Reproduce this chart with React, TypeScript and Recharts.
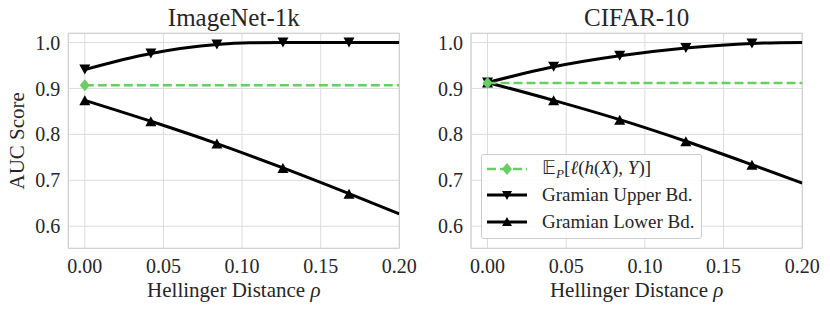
import { LineChart, Line, XAxis, YAxis, CartesianGrid, ReferenceArea, Label } from 'recharts'

const FONT = '"Liberation Serif", "Times New Roman", Times, serif'
const TEXT = '#262626'
const GREEN = '#6acc64'
const GRID = '#dcdcdc'
const EDGE = '#cccccc'

const xTicks = [0, 0.05, 0.1, 0.15, 0.2]
const yTicks = [0.6, 0.7, 0.8, 0.9, 1.0]
const markerRho = [0, 0.042, 0.084, 0.126, 0.168]
const X_DOMAIN = [-0.0105, 0.2]
const Y_DOMAIN = [0.552, 1.02]

// ImageNet-1k
const inUpperRho = [0, 0.042, 0.084, 0.105, 0.126, 0.168, 0.2]
const inUpper = [0.941, 0.976, 0.9955, 0.9993, 1.0, 1.0, 1.0]
const inLowerRho = [0, 0.042, 0.084, 0.126, 0.168, 0.2]
const inLower = [0.874, 0.8285, 0.78, 0.727, 0.671, 0.627]
const inEmpRho = [0, 0.2]
const inEmp = [0.907, 0.907]

// CIFAR-10
const cfUpperRho = [0, 0.042, 0.084, 0.126, 0.168, 0.2]
const cfUpper = [0.913, 0.947, 0.971, 0.988, 0.998, 1.0]
const cfLowerRho = [0, 0.042, 0.084, 0.126, 0.168, 0.2]
const cfLower = [0.913, 0.874, 0.832, 0.785, 0.734, 0.694]
const cfEmpRho = [0, 0.2]
const cfEmp = [0.912, 0.912]

const zip = (xs: number[], ys: number[]) => xs.map((x, i) => ({ x, y: ys[i] }))

const triDot = (down: boolean) => (p: any) => {
  const { cx, cy, payload, index } = p
  if (cx == null || !markerRho.includes(payload.x)) return <g key={`t${index}`} />
  const w = 5.5, h = 5
  const pts = down
    ? `${cx - w},${cy - h} ${cx + w},${cy - h} ${cx},${cy + h}`
    : `${cx - w},${cy + h} ${cx + w},${cy + h} ${cx},${cy - h}`
  return <polygon key={`t${index}`} points={pts} fill="#000" />
}

const diamondDot = (p: any) => {
  const { cx, cy, payload, index } = p
  if (cx == null || payload.x !== 0) return <g key={`g${index}`} />
  const w = 5, h = 6
  return (
    <polygon key={`g${index}`} fill={GREEN}
      points={`${cx},${cy - h} ${cx + w},${cy} ${cx},${cy + h} ${cx - w},${cy}`} />
  )
}

const tickStyle = { fill: TEXT, fontSize: 20, fontFamily: FONT }

function Panel({ title, left, width, yWidth, right, upper, lower, emp, yLabel }: any) {
  return (
    <div style={{ position: 'absolute', left, top: 0, fontFamily: FONT }}>
      <LineChart width={width} height={311} margin={{ top: 33.3, right, bottom: 0, left: 0 }}
        style={{ fontFamily: FONT }}>
        <CartesianGrid stroke={GRID} strokeWidth={1} />
        <XAxis type="number" dataKey="x" domain={X_DOMAIN} allowDataOverflow ticks={xTicks} interval={0}
          tickFormatter={(v: number) => v.toFixed(2)} tickLine={false} axisLine={false}
          tickSize={0} tickMargin={10} height={62.7} tick={tickStyle}>
          <Label content={(p: any) => {
            const vb = p.viewBox
            const cx = vb.x + vb.width / 2
            return (
              <g fontFamily={FONT} fill={TEXT} textAnchor="middle">
                <text x={cx} y={vb.y + 48.4} fontSize={21} fontFamily={FONT}>
                  Hellinger Distance <tspan fontStyle="italic">ρ</tspan>
                </text>
                <text x={cx} y={vb.y - 222.3} fontSize={25} fontFamily={FONT}>{title}</text>
              </g>
            )
          }} />
        </XAxis>
        <YAxis type="number" domain={Y_DOMAIN} allowDataOverflow ticks={yTicks} interval={0}
          tickFormatter={(v: number) => v.toFixed(1)} tickLine={false} axisLine={false}
          tickSize={0} tickMargin={8} width={yWidth} tick={tickStyle}>
          {yLabel && (
            <Label content={(p: any) => {
              const vb = p.viewBox
              const x = vb.x + 24
              const y = vb.y + vb.height / 2
              return (
                <text x={x} y={y} transform={`rotate(-90, ${x}, ${y})`} textAnchor="middle"
                  fontFamily={FONT} fontSize={21} fill={TEXT}>AUC Score</text>
              )
            }} />
          )}
        </YAxis>
        <ReferenceArea x1={X_DOMAIN[0]} x2={X_DOMAIN[1]} y1={Y_DOMAIN[0]} y2={Y_DOMAIN[1]}
          fill="#fff" fillOpacity={0} stroke={EDGE} strokeWidth={1} />
        <Line data={upper} dataKey="y" type="monotone" stroke="#000" strokeWidth={3}
          dot={triDot(true)} activeDot={false} isAnimationActive={false} />
        <Line data={lower} dataKey="y" type="monotone" stroke="#000" strokeWidth={3}
          dot={triDot(false)} activeDot={false} isAnimationActive={false} />
        <Line data={emp} dataKey="y" type="linear" stroke={GREEN} strokeWidth={2.5} strokeDasharray="9 4"
          dot={diamondDot} activeDot={false} isAnimationActive={false} />
      </LineChart>
    </div>
  )
}

function LegendBox() {
  const rows = [
    { top: 13.5, kind: 'emp' },
    { top: 40, kind: 'up' },
    { top: 66.5, kind: 'lo' },
  ]
  const label = (kind: string) => {
    if (kind === 'up') return 'Gramian Upper Bd.'
    if (kind === 'lo') return 'Gramian Lower Bd.'
    return (
      <span>
        𝔼<span style={{ fontStyle: 'italic', fontSize: 13, position: 'relative', top: 4 }}>P</span>
        [<span style={{ fontStyle: 'italic' }}>ℓ</span>(<i>h</i>(<i>X</i>), <i>Y</i>)]
      </span>
    )
  }
  return (
    <div style={{
      position: 'absolute', left: 481, top: 154, width: 219, height: 83,
      border: `1px solid ${EDGE}`, borderRadius: 3, background: 'rgba(255,255,255,0.85)',
      fontFamily: FONT, fontSize: 19, color: TEXT,
    }}>
      {rows.map((r) => (
        <div key={r.kind} style={{
          position: 'absolute', left: 0, top: r.top - 13, height: 26, width: '100%',
          display: 'flex', alignItems: 'center', lineHeight: '26px', whiteSpace: 'nowrap',
        }}>
          <svg width={40} height={26} style={{ position: 'absolute', left: 5, top: 0 }}>
            {r.kind === 'emp' ? (
              <g>
                <line x1={0} x2={40} y1={13} y2={13} stroke={GREEN} strokeWidth={2.5} strokeDasharray="9 4" />
                <polygon points="20,7 25,13 20,19 15,13" fill={GREEN} />
              </g>
            ) : (
              <g>
                <line x1={0} x2={40} y1={13} y2={13} stroke="#000" strokeWidth={3} />
                <polygon fill="#000" points={r.kind === 'up' ? '15,9 25,9 20,18' : '15,17 25,17 20,8'} />
              </g>
            )}
          </svg>
          <span style={{ position: 'absolute', left: 60 }}>{label(r.kind)}</span>
        </div>
      ))}
    </div>
  )
}

export default function App() {
  return (
    <div style={{ position: 'absolute', left: 0, top: 0, width: 830, height: 311, background: '#fff', fontFamily: FONT }}>
      <Panel title="ImageNet-1k" left={0} width={430} yWidth={68.3} right={30.7} yLabel
        upper={zip(inUpperRho, inUpper)} lower={zip(inLowerRho, inLower)} emp={zip(inEmpRho, inEmp)} />
      <Panel title="CIFAR-10" left={415} width={415} yWidth={56} right={27.7}
        upper={zip(cfUpperRho, cfUpper)} lower={zip(cfLowerRho, cfLower)} emp={zip(cfEmpRho, cfEmp)} />
      <LegendBox />
    </div>
  )
}
